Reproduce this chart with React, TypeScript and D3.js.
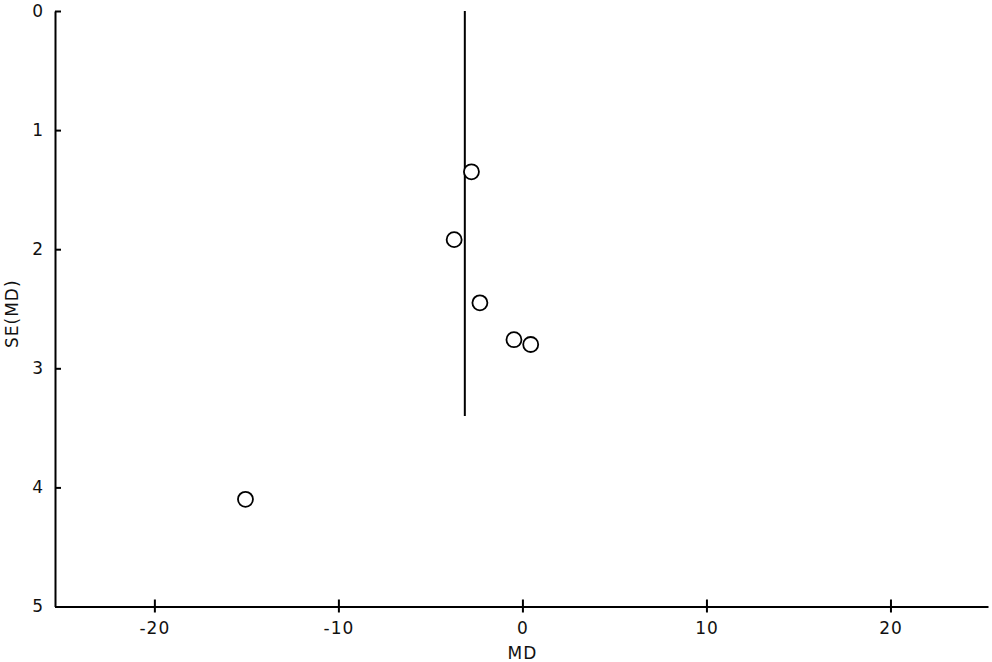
import React, { useEffect, useRef } from 'react';
import * as d3 from 'd3';

// study estimates: mean difference and its standard error
const md = [-2.77, -3.71, -2.31, -0.46, 0.45, -15.05];
const se = [1.35, 1.92, 2.45, 2.76, 2.8, 4.1];
// pooled estimate line
const pooledMd = -3.13;
const pooledSeMax = 3.4;
const xTicks = [-20, -10, 0, 10, 20];
const yTicks = [0, 1, 2, 3, 4, 5];

const width = 992;
const height = 662;
const font = '"DejaVu Sans", sans-serif';

const App = () => {
  const xAxisRef = useRef<SVGGElement>(null);
  const yAxisRef = useRef<SVGGElement>(null);

  const x = d3.scaleLinear().domain([-25.4, 25.3]).range([55, 988]);
  const y = d3.scaleLinear().domain([0, 5]).range([11, 606.5]);

  useEffect(() => {
    if (xAxisRef.current) {
      const g = d3.select(xAxisRef.current);
      g.call(
        d3.axisBottom(x)
          .tickValues(xTicks)
          .tickFormat((d) => String(d))
          .tickSizeOuter(0)
          .tickSizeInner(6)
          .tickPadding(9)
      );
      g.select('.domain').attr('stroke-width', 2);
      g.selectAll('.tick line').attr('y1', -7).attr('stroke-width', 2);
      g.selectAll('.tick text')
        .attr('font-family', font)
        .attr('font-size', 17)
        .attr('letter-spacing', 1)
        .attr('fill', '#111');
    }
    if (yAxisRef.current) {
      const g = d3.select(yAxisRef.current);
      g.call(
        d3.axisLeft(y)
          .tickValues(yTicks)
          .tickFormat((d) => String(d))
          .tickSizeOuter(0)
          .tickSizeInner(7)
          .tickPadding(5)
      );
      g.select('.domain').attr('stroke-width', 2);
      g.selectAll('.tick line').attr('x2', 6).attr('stroke-width', 2);
      g.selectAll('.tick text')
        .attr('font-family', font)
        .attr('font-size', 17)
        .attr('fill', '#111');
    }
  }, []);

  return (
    <svg
      width={width}
      height={height}
      style={{ position: 'absolute', left: 0, top: 0, background: '#fff' }}
    >
      <g ref={xAxisRef} transform={`translate(0,${y(5)})`} />
      <g ref={yAxisRef} transform={`translate(${x(-25.4)},0)`} />
      <line
        x1={x(pooledMd)}
        x2={x(pooledMd)}
        y1={y(0)}
        y2={y(pooledSeMax)}
        stroke="#000"
        strokeWidth={2}
      />
      {md.map((d, i) => (
        <circle
          key={i}
          cx={x(d)}
          cy={y(se[i])}
          r={7.5}
          fill="#fff"
          stroke="#000"
          strokeWidth={1.8}
        />
      ))}
      <text
        x={x(0)}
        y={659}
        textAnchor="middle"
        fontFamily={font}
        fontSize={17}
        letterSpacing={1}
        fill="#111"
      >
        MD
      </text>
      <text
        transform={`translate(18,${y(2.5) + 5}) rotate(-90)`}
        textAnchor="middle"
        fontFamily={font}
        fontSize={17}
        letterSpacing={1}
        fill="#111"
      >
        SE(MD)
      </text>
    </svg>
  );
};

export default App;
